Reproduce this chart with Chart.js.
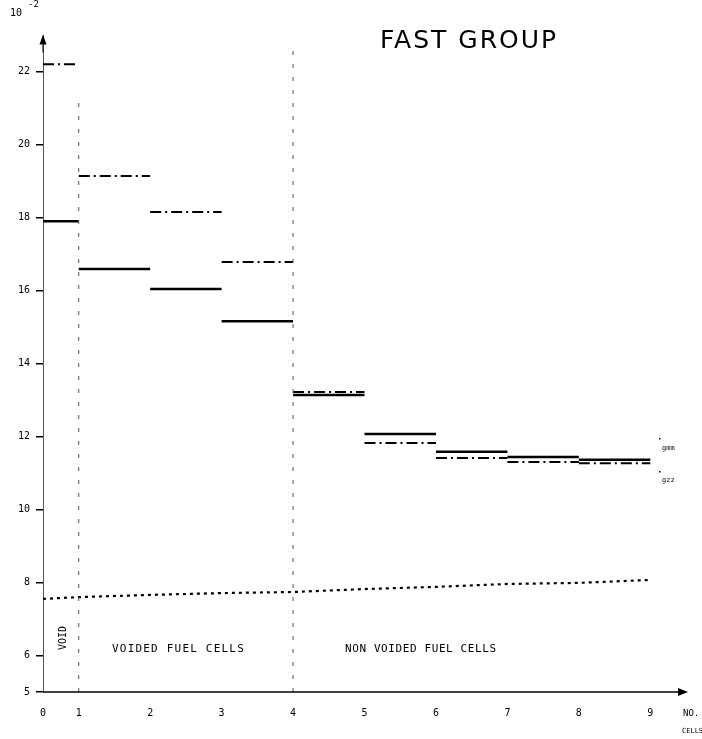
<!DOCTYPE html>
<html>
<head>
<meta charset="utf-8">
<script src="https://cdn.jsdelivr.net/npm/chart.js@4/dist/chart.umd.min.js"></script>
<style>
  html, body { margin: 0; padding: 0; background: #fff; }
  #wrap { width: 702px; height: 739px; }
</style>
</head>
<body>
<div id="wrap"><canvas id="fast"></canvas></div>
<script>
// cell edges on the x axis (void cell is half width, so label 0 sits at 0.5)
const cellEdges = [0.5, 1, 2, 3, 4, 5, 6, 7, 8, 9];
const xTickPos = [0.5, 1, 2, 3, 4, 5, 6, 7, 8, 9];
const xTickLabels = ['0', '1', '2', '3', '4', '5', '6', '7', '8', '9'];
const yTickPos = [5, 6, 8, 10, 12, 14, 16, 18, 20, 22];

// fast group values (x 10^-2), one per cell
const solidVals = [17.9, 16.59, 16.04, 15.16, 13.14, 12.07, 11.58, 11.44, 11.36];
const dashDotVals = [22.2, 19.14, 18.15, 16.78, 13.22, 11.82, 11.41, 11.30, 11.27];
const dottedVals = [7.55, 7.6, 7.66, 7.71, 7.74, 7.82, 7.88, 7.96, 7.99, 8.07];

function stepSegments(vals) {
  const pts = [];
  vals.forEach((v, i) => {
    pts.push({ x: cellEdges[i], y: v });
    pts.push({ x: cellEdges[i + 1], y: v });
    pts.push({ x: cellEdges[i + 1], y: null });
  });
  return pts;
}

const FONT = '"DejaVu Sans Mono", monospace';

const decor = {
  id: 'decor',
  afterDraw(chart) {
    const { ctx, scales: { x, y } } = chart;
    const x0 = x.getPixelForValue(0.5), yb = y.getPixelForValue(5);
    ctx.save();
    // cell boundary dash lines
    ctx.strokeStyle = '#555';
    ctx.lineWidth = 1;
    ctx.setLineDash([4, 9]);
    [[1, 21.3], [4, 22.8]].forEach(([cx, top]) => {
      const px = x.getPixelForValue(cx);
      ctx.beginPath();
      ctx.moveTo(px, yb);
      ctx.lineTo(px, y.getPixelForValue(top));
      ctx.stroke();
    });
    ctx.setLineDash([]);
    // x axis with arrow
    const xr = x.getPixelForValue(9.5);
    ctx.strokeStyle = '#000';
    ctx.lineWidth = 1.5;
    ctx.beginPath();
    ctx.moveTo(x0, yb);
    ctx.lineTo(xr - 4, yb);
    ctx.stroke();
    ctx.fillStyle = '#000';
    ctx.beginPath();
    ctx.moveTo(xr + 2, yb);
    ctx.lineTo(xr - 8, yb - 4);
    ctx.lineTo(xr - 8, yb + 4);
    ctx.closePath();
    ctx.fill();
    // y axis arrow
    const yt = y.getPixelForValue(22.85);
    ctx.beginPath();
    ctx.moveTo(x0, yt - 6);
    ctx.lineTo(x0 - 3.5, yt + 4);
    ctx.lineTo(x0 + 3.5, yt + 4);
    ctx.closePath();
    ctx.fill();
    ctx.lineWidth = 1;
    ctx.beginPath();
    ctx.moveTo(x0, yt + 4);
    ctx.lineTo(x0, yt + 12);
    ctx.stroke();

    // texts
    ctx.fillStyle = '#000';
    ctx.textBaseline = 'middle';
    ctx.font = '10px ' + FONT;
    ctx.textAlign = 'left';
    ctx.fillText('10', 10, 13);
    ctx.font = '9px ' + FONT;
    ctx.fillText('-2', 28, 5);

    ctx.font = '25px "DejaVu Sans"';
    ctx.letterSpacing = '2px';
    ctx.textAlign = 'left';
    ctx.fillText('FAST GROUP', 380, 41);

    ctx.font = '11px ' + FONT;
    ctx.letterSpacing = '1.2px';
    ctx.fillText('VOIDED FUEL CELLS', 112, 649);
    ctx.letterSpacing = '0.6px';
    ctx.fillText('NON VOIDED FUEL CELLS', 345, 649);
    ctx.letterSpacing = '0px';
    ctx.font = '9px ' + FONT;
    ctx.fillText('NO.', 683, 714);
    ctx.font = '7px ' + FONT;
    ctx.fillText('CELLS', 682, 731);
    ctx.font = '7px ' + FONT;
    ctx.fillText('gmm', 662, 448);
    ctx.fillText('gzz', 662, 480);
    ctx.fillRect(659, 438, 1.5, 1.5);
    ctx.fillRect(659, 471, 1.5, 1.5);

    ctx.save();
    ctx.translate(63, 638);
    ctx.rotate(-Math.PI / 2);
    ctx.font = '10px ' + FONT;
    ctx.textAlign = 'center';
    ctx.fillText('VOID', 0, 0);
    ctx.restore();
    ctx.restore();
  }
};

new Chart(document.getElementById('fast'), {
  type: 'line',
  data: {
    datasets: [
      {
        label: 'solid',
        data: stepSegments(solidVals),
        borderColor: '#000',
        borderWidth: 2.5,
        pointRadius: 0,
        spanGaps: false
      },
      {
        label: 'dash-dot',
        data: stepSegments(dashDotVals),
        borderColor: '#000',
        borderWidth: 2,
        borderDash: [11, 4, 2, 4],
        pointRadius: 0,
        spanGaps: false
      },
      {
        label: 'dotted',
        data: cellEdges.map((c, i) => ({ x: c, y: dottedVals[i] })),
        borderColor: '#000',
        borderWidth: 2.2,
        borderDash: [3, 4],
        pointRadius: 0
      }
    ]
  },
  options: {
    responsive: true,
    maintainAspectRatio: false,
    animation: false,
    layout: { padding: { left: 0, top: 35, right: 16, bottom: 0 } },
    plugins: { legend: { display: false }, tooltip: { enabled: false } },
    scales: {
      x: {
        type: 'linear',
        min: 0.5,
        max: 9.5,
        afterBuildTicks: s => { s.ticks = xTickPos.map(v => ({ value: v })); },
        afterFit: s => { s.height = 47; },
        grid: { display: false, drawTicks: false },
        border: { display: false },
        ticks: {
          color: '#000',
          padding: 15,
          font: { family: FONT, size: 10 },
          callback: v => xTickLabels[xTickPos.indexOf(v)]
        }
      },
      y: {
        min: 5,
        max: 23,
        afterBuildTicks: s => { s.ticks = yTickPos.map(v => ({ value: v })); },
        afterFit: s => { s.width = 43; },
        grid: { drawOnChartArea: false, drawTicks: true, tickLength: 7, color: '#000', lineWidth: 1.5 },
        border: { display: true, color: '#555', width: 1, dash: [4, 7] },
        ticks: {
          color: '#000',
          padding: 6,
          font: { family: FONT, size: 10 },
          callback: v => String(v)
        }
      }
    }
  },
  plugins: [decor]
});
</script>
</body>
</html>
